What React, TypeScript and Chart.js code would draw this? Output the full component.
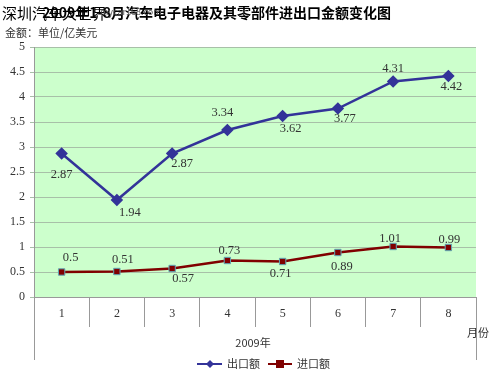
import React, { useEffect, useRef } from "react";
import { Chart, registerables } from "chart.js";
Chart.register(...registerables);

const months = ["1", "2", "3", "4", "5", "6", "7", "8"];
const exportValues = [2.87, 1.94, 2.87, 3.34, 3.62, 3.77, 4.31, 4.42];
const importValues = [0.5, 0.51, 0.57, 0.73, 0.71, 0.89, 1.01, 0.99];
const exportName = "出口额";
const importName = "进口额";
const titleText = "2009年1-8月汽车电子电器及其零部件进出口金额变化图";
const watermarkText = "深圳汽车大世界";
const watermarkUrl = "mycar168.com";
const unitText = "金额：单位/亿美元";
const xTitleText = "2009年";
const xUnitText = "月份";

// label offsets (style only)
const exportOffsets = [[0, 21], [13, 13], [10, 10], [-5, -17], [8, 13], [7, 10], [0, -13], [3, 11]];
const importOffsets = [[9, -14], [6, -12], [11, 10], [2, -10], [-2, 12], [4, 14], [-3, -8], [1, -8]];

const EXP_COLOR = "#333399";
const IMP_COLOR = "#800000";
const SERIF = "'Liberation Serif', 'Noto Sans CJK SC', serif";
const CJK = "'Noto Sans CJK SC', sans-serif";

const decor = {
  id: "decor",
  beforeDraw(chart: any) {
    const { ctx, chartArea: a } = chart;
    ctx.save();
    ctx.fillStyle = "#ffffff";
    ctx.fillRect(0, 0, chart.width, chart.height);
    ctx.fillStyle = "#CCFFCC";
    ctx.fillRect(a.left, a.top, a.right - a.left, a.bottom - a.top);
    ctx.restore();
  },
  afterDatasetsDraw(chart: any) {
    const { ctx } = chart;
    ctx.save();
    ctx.font = `12.5px ${SERIF}`;
    ctx.fillStyle = "#333333";
    ctx.textAlign = "center";
    ctx.textBaseline = "middle";
    const offs = [exportOffsets, importOffsets];
    chart.data.datasets.forEach((ds: any, di: number) => {
      const meta = chart.getDatasetMeta(di);
      meta.data.forEach((pt: any, i: number) => {
        const o = offs[di][i];
        ctx.fillText(String(ds.data[i]), pt.x + o[0], pt.y + o[1]);
      });
    });
    ctx.restore();
  },
  afterDraw(chart: any) {
    const { ctx, chartArea: a } = chart;
    ctx.save();
    // extended side lines
    ctx.strokeStyle = "#999999";
    ctx.lineWidth = 1;
    ctx.beginPath();
    ctx.moveTo(a.left + 0.5, a.bottom);
    ctx.lineTo(a.left + 0.5, 360);
    ctx.moveTo(a.right + 0.5, a.bottom);
    ctx.lineTo(a.right + 0.5, 360);
    ctx.stroke();

    // title
    ctx.textBaseline = "middle";
    ctx.textAlign = "right";
    ctx.fillStyle = "#000000";
    ctx.font = `bold 14px ${CJK}`;
    ctx.fillText(titleText, 391, 13);
    // watermark
    ctx.textAlign = "left";
    ctx.font = `15px ${CJK}`;
    ctx.fillText(watermarkText, 2, 13);
    ctx.font = `9px ${CJK}`;
    ctx.fillStyle = "#555555";
    ctx.fillText(watermarkUrl, 100, 12);
    // unit
    ctx.fillStyle = "#333333";
    ctx.font = `11px ${CJK}`;
    ctx.fillText(unitText, 5, 33);

    // x title and unit
    ctx.textAlign = "center";
    ctx.fillText(xTitleText, 253, 343);
    ctx.fillText(xUnitText, 478, 333);

    // legend
    const ly = 364;
    ctx.lineWidth = 2;
    ctx.strokeStyle = EXP_COLOR;
    ctx.beginPath();
    ctx.moveTo(197, ly);
    ctx.lineTo(222, ly);
    ctx.stroke();
    ctx.fillStyle = EXP_COLOR;
    ctx.beginPath();
    ctx.moveTo(210, ly - 4);
    ctx.lineTo(214, ly);
    ctx.lineTo(210, ly + 4);
    ctx.lineTo(206, ly);
    ctx.closePath();
    ctx.fill();
    ctx.strokeStyle = IMP_COLOR;
    ctx.beginPath();
    ctx.moveTo(268, ly);
    ctx.lineTo(292, ly);
    ctx.stroke();
    ctx.fillStyle = IMP_COLOR;
    ctx.fillRect(276, ly - 4, 8, 8);
    ctx.fillStyle = "#333333";
    ctx.textAlign = "left";
    ctx.font = `11px ${CJK}`;
    ctx.fillText(exportName, 227, ly);
    ctx.fillText(importName, 297, ly);
    ctx.restore();
  },
};

export default function App() {
  const ref = useRef<HTMLCanvasElement>(null);
  useEffect(() => {
    document.body.style.margin = "0";
    const chart = new Chart(ref.current!, {
      type: "line",
      data: {
        labels: months,
        datasets: [
          {
            label: exportName,
            data: exportValues,
            borderColor: EXP_COLOR,
            backgroundColor: EXP_COLOR,
            borderWidth: 2.5,
            pointStyle: "rectRot",
            pointRadius: 4.5,
            pointBackgroundColor: EXP_COLOR,
            pointBorderColor: EXP_COLOR,
            tension: 0,
          },
          {
            label: importName,
            data: importValues,
            borderColor: IMP_COLOR,
            backgroundColor: IMP_COLOR,
            borderWidth: 2.5,
            pointStyle: "rect",
            pointRadius: 4.5,
            pointBackgroundColor: IMP_COLOR,
            pointBorderColor: "#5fa8b8",
            pointBorderWidth: 1,
            tension: 0,
          },
        ],
      },
      options: {
        responsive: false,
        animation: false,
        layout: { padding: { top: 47, right: 24, left: 0, bottom: 0 } },
        plugins: { legend: { display: false }, title: { display: false }, tooltip: { enabled: false } },
        scales: {
          x: {
            type: "category",
            offset: true,
            grid: { offset: true, drawOnChartArea: false, drawTicks: true, tickLength: 30, color: "#999999" },
            border: { color: "#999999" },
            ticks: { font: { family: SERIF, size: 12 }, color: "#333333", padding: -20, maxRotation: 0 },
            afterFit: (s: any) => { s.height = 80; },
          },
          y: {
            min: 0,
            max: 5,
            ticks: {
              stepSize: 0.5,
              font: { family: SERIF, size: 12 },
              color: "#333333",
              padding: 5,
              callback: (v: any) => String(v),
            },
            grid: { color: "#a8c0a8", tickLength: 4, drawTicks: true },
            border: { color: "#999999" },
            afterFit: (s: any) => { s.width = 34; },
          },
        },
      },
      plugins: [decor],
    });
    return () => chart.destroy();
  }, []);
  return <canvas ref={ref} width={500} height={377} style={{ display: "block" }} />;
}
